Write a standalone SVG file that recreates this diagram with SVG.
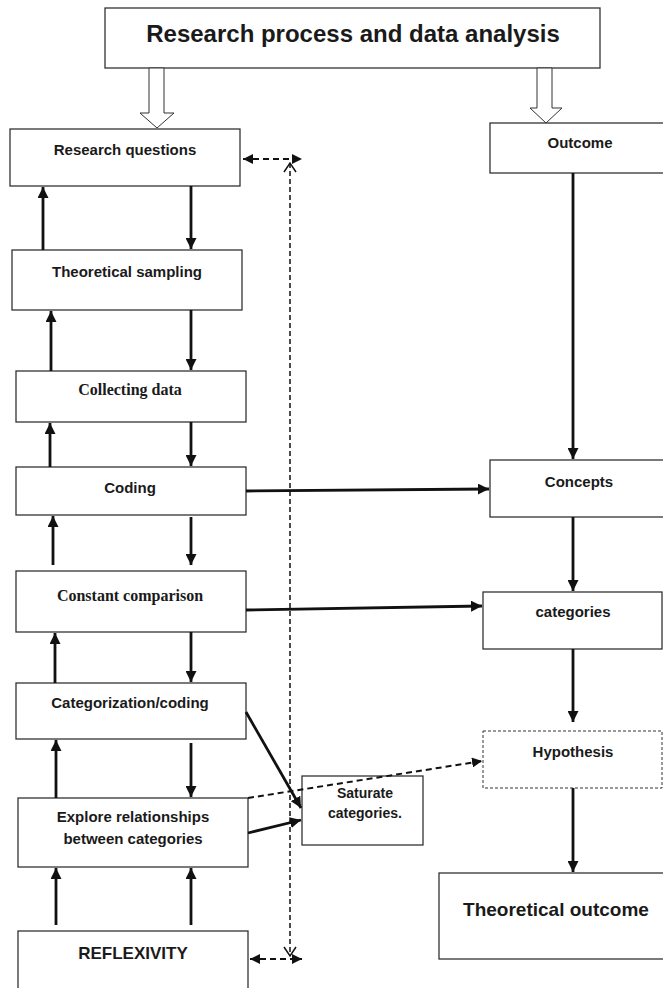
<svg xmlns="http://www.w3.org/2000/svg" width="663" height="988" viewBox="0 0 663 988">
<defs>
<style>
.box{fill:#fff;stroke:#333;stroke-width:1.3}
.dbox{fill:#fff;stroke:#333;stroke-width:1;stroke-dasharray:3 2}
.hollow{fill:#fff;stroke:#333;stroke-width:1}
.t{font-family:"Liberation Sans",Arial,sans-serif;font-weight:bold;font-size:15px;fill:#1a1a1a;text-anchor:middle}
.s{font-family:"Liberation Serif","Times New Roman",serif;font-weight:bold;font-size:16px;fill:#1a1a1a;text-anchor:middle}
.c{fill:none;stroke:#111;stroke-width:2.8}
.d{fill:none;stroke:#111;stroke-width:2;stroke-dasharray:6 4}
.v{fill:none;stroke:#111;stroke-width:1.5;stroke-dasharray:5 3}
</style>
<marker id="ah" viewBox="0 0 10 10" refX="10" refY="5" markerWidth="11" markerHeight="11" markerUnits="userSpaceOnUse" orient="auto-start-reverse">
<path d="M0,0 L10,5 L0,10 Z" fill="#111"/>
</marker>
<marker id="ahs" viewBox="0 0 10 10" refX="10" refY="5" markerWidth="10" markerHeight="10" markerUnits="userSpaceOnUse" orient="auto-start-reverse">
<path d="M0,0 L10,5 L0,10 Z" fill="#111"/>
</marker>
</defs>

<g id="title">
<rect class="box" x="105" y="8" width="495" height="60"/>
<text class="t" x="353" y="42" style="font-size:24px">Research process and data analysis</text>
</g>

<g id="research-questions">
<rect class="box" x="10" y="129" width="230" height="57"/>
<text class="t" x="125" y="155">Research questions</text>
</g>
<g id="theoretical-sampling">
<rect class="box" x="12" y="250" width="230" height="60"/>
<text class="t" x="127" y="277">Theoretical sampling</text>
</g>
<g id="collecting-data">
<rect class="box" x="16" y="371" width="230" height="51"/>
<text class="s" x="130" y="395">Collecting data</text>
</g>
<g id="coding">
<rect class="box" x="16" y="467" width="230" height="48"/>
<text class="t" x="130" y="493">Coding</text>
</g>
<g id="constant-comparison">
<rect class="box" x="16" y="571" width="230" height="61"/>
<text class="s" x="130" y="601">Constant comparison</text>
</g>
<g id="categorization-coding">
<rect class="box" x="16" y="683" width="230" height="56"/>
<text class="t" x="130" y="708">Categorization/coding</text>
</g>
<g id="explore-relationships">
<rect class="box" x="18" y="798" width="230" height="69"/>
<text class="t" x="133" y="822">Explore relationships</text>
<text class="t" x="133" y="844">between categories</text>
</g>
<g id="reflexivity">
<rect class="box" x="18" y="931" width="230" height="62"/>
<text class="t" x="133" y="959" style="font-size:17px">REFLEXIVITY</text>
</g>
<g id="saturate-categories">
<rect class="box" x="302" y="776" width="121" height="69"/>
<text class="t" x="365" y="798" style="font-size:14px">Saturate</text>
<text class="t" x="365" y="818" style="font-size:14px">categories.</text>
</g>
<g id="outcome">
<rect class="box" x="490" y="123" width="200" height="50"/>
<text class="t" x="580" y="148">Outcome</text>
</g>
<g id="concepts">
<rect class="box" x="490" y="460" width="200" height="57"/>
<text class="t" x="579" y="487">Concepts</text>
</g>
<g id="categories">
<rect class="box" x="483" y="592" width="179" height="57"/>
<text class="t" x="573" y="617">categories</text>
</g>
<g id="hypothesis">
<rect class="dbox" x="483" y="731" width="179" height="57"/>
<text class="t" x="573" y="757">Hypothesis</text>
</g>
<g id="theoretical-outcome">
<rect class="box" x="439" y="873" width="250" height="86"/>
<text class="t" x="556" y="916" style="font-size:19px">Theoretical outcome</text>
</g>

<g id="connectors">
<polygon class="hollow" points="149,68 164,68 164,113 174,113 157,128 140,113 149,113"/>
<polygon class="hollow" points="537,68 552,68 552,108 562,108 546,123 530,108 537,108"/>

<line class="c" x1="43" y1="250" x2="43" y2="187" marker-end="url(#ah)"/>
<line class="c" x1="191" y1="186" x2="191" y2="249" marker-end="url(#ah)"/>
<line class="c" x1="51" y1="371" x2="51" y2="311" marker-end="url(#ah)"/>
<line class="c" x1="191" y1="310" x2="191" y2="370" marker-end="url(#ah)"/>
<line class="c" x1="50" y1="467" x2="50" y2="423" marker-end="url(#ah)"/>
<line class="c" x1="191" y1="422" x2="191" y2="466" marker-end="url(#ah)"/>
<line class="c" x1="53" y1="565" x2="53" y2="516" marker-end="url(#ah)"/>
<line class="c" x1="191" y1="517" x2="191" y2="565" marker-end="url(#ah)"/>
<line class="c" x1="55" y1="683" x2="55" y2="633" marker-end="url(#ah)"/>
<line class="c" x1="191" y1="632" x2="191" y2="682" marker-end="url(#ah)"/>
<line class="c" x1="56" y1="798" x2="56" y2="740" marker-end="url(#ah)"/>
<line class="c" x1="191" y1="743" x2="191" y2="797" marker-end="url(#ah)"/>
<line class="c" x1="56" y1="925" x2="56" y2="868" marker-end="url(#ah)"/>
<line class="c" x1="191" y1="925" x2="191" y2="868" marker-end="url(#ah)"/>

<line class="c" x1="246" y1="491" x2="489" y2="489" marker-end="url(#ah)"/>
<line class="c" x1="246" y1="610" x2="482" y2="606" marker-end="url(#ah)"/>
<line class="c" x1="246" y1="712" x2="301" y2="808" marker-end="url(#ah)"/>
<line class="c" x1="248" y1="833" x2="301" y2="820" marker-end="url(#ah)"/>
<line class="d" x1="248" y1="798" x2="482" y2="761" marker-end="url(#ahs)"/>

<line class="c" x1="573" y1="173" x2="573" y2="459" marker-end="url(#ah)"/>
<line class="c" x1="573" y1="517" x2="573" y2="591" marker-end="url(#ah)"/>
<line class="c" x1="573" y1="649" x2="573" y2="722" marker-end="url(#ah)"/>
<line class="c" x1="573" y1="788" x2="573" y2="872" marker-end="url(#ah)"/>

<line class="d" x1="243" y1="159" x2="302" y2="159" marker-start="url(#ahs)" marker-end="url(#ahs)"/>
<line class="d" x1="250" y1="959" x2="302" y2="959" marker-start="url(#ahs)" marker-end="url(#ahs)"/>
<line class="v" x1="290" y1="163" x2="290" y2="956"/>
<polyline fill="none" stroke="#111" stroke-width="1.5" points="284,172 290,163 296,172"/>
<polyline fill="none" stroke="#111" stroke-width="1.5" points="284,947 290,956 296,947"/>
</g>
</svg>
